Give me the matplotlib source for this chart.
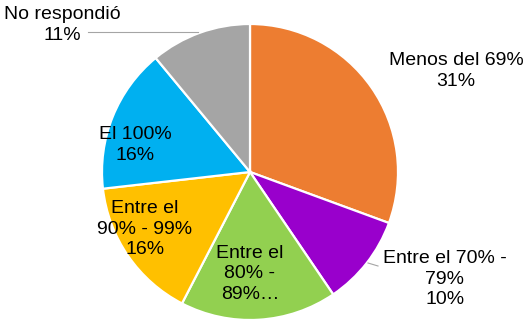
import matplotlib
matplotlib.use("Agg")
import matplotlib.pyplot as plt

categories = ["Menos del 69%", "Entre el 70% - 79%", "Entre el 80% - 89%", "Entre el 90% - 99%", "El 100%", "No respondió"]
values = [30.6, 9.9, 17.1, 15.6, 15.8, 11.0]
label_texts = ["Menos del 69%\n31%", "Entre el 70% -\n79%\n10%", "Entre el\n80% -\n89%…",
               "Entre el\n90% - 99%\n16%", "El 100%\n16%", "No respondió\n11%"]
colors = ["#ED7D31", "#9900CC", "#92D050", "#FFC000", "#00B0F0", "#A5A5A5"]

plt.rcParams['font.family'] = ['Liberation Sans', 'DejaVu Sans']

fig = plt.figure(figsize=(5.3, 3.24), dpi=100)
ax = fig.add_axes([0, 0, 1, 1])

cx, cy, r = 250, 152, 148
ax.pie(values, colors=colors, startangle=90, counterclock=False,
       center=(cx, cy), radius=r, frame=True,
       wedgeprops=dict(edgecolor='white', linewidth=1.6))
ax.set_xlim(0, 530)
ax.set_ylim(0, 324)
ax.set_aspect('equal')
ax.axis('off')

# label layout (pixel positions, y measured from top)
label_pos = [(456, 71), (445, 279), (250, 274), (145, 229), (135, 145), (62, 25)]
for t, (x, y) in zip(label_texts, label_pos):
    ax.text(x, 324 - y, t, ha='center', va='center', fontsize=14, linespacing=1.3, color='black')

# leader lines
ax.plot([88, 198], [324 - 32, 324 - 32], color='#A5A5A5', lw=0.8)
ax.plot([368, 378], [324 - 263, 324 - 266], color='#A5A5A5', lw=0.8)

fig.savefig("out.png", dpi=100)
